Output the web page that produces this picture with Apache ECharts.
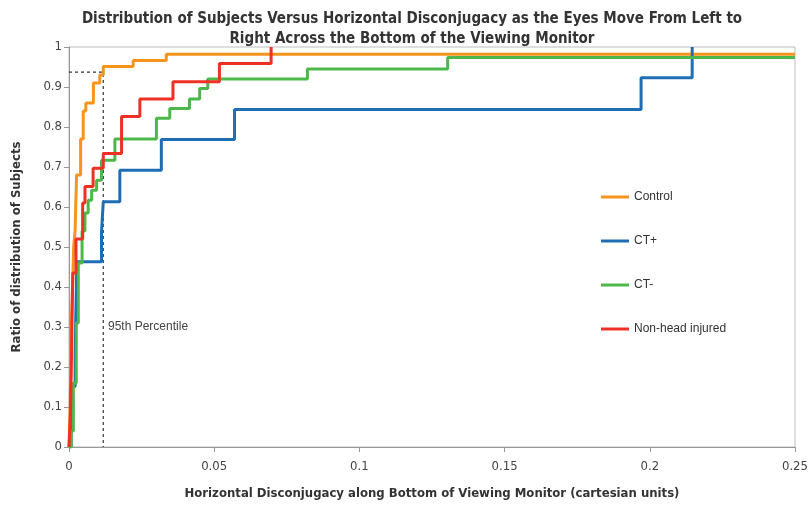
<!DOCTYPE html>
<html>
<head>
<meta charset="utf-8">
<script src="https://cdn.jsdelivr.net/npm/echarts@6/dist/echarts.min.js"></script>
<style>
  html, body { margin: 0; padding: 0; background: #fff; }
  #chart { width: 811px; height: 506px; }
</style>
</head>
<body>
<div id="chart"></div>
<script>
// cumulative distributions, [disconjugacy, ratio] at each step
const control = [
  [0, 0], [0.0004, 0.1], [0.0008, 0.3], [0.0013, 0.42], [0.0016, 0.5], [0.0021, 0.54],
  [0.0026, 0.68], [0.004, 0.77], [0.0049, 0.84], [0.0058, 0.86], [0.0084, 0.91],
  [0.0106, 0.93], [0.0118, 0.951], [0.0221, 0.966], [0.0335, 0.982], [0.25, 0.982]
]
const ctPlus = [
  [0, 0], [0.0007, 0.151], [0.0021, 0.23], [0.0023, 0.31], [0.0025, 0.385], [0.0027, 0.463],
  [0.0112, 0.538], [0.0118, 0.613], [0.0175, 0.692], [0.0318, 0.769], [0.057, 0.844],
  [0.197, 0.923], [0.2146, 1.0]
]
const ctMinus = [
  [0, 0], [0.0008, 0.04], [0.0015, 0.16], [0.0025, 0.31], [0.0032, 0.46], [0.0045, 0.54],
  [0.0055, 0.585], [0.0066, 0.617], [0.0078, 0.642], [0.0095, 0.667], [0.0112, 0.717],
  [0.0158, 0.77], [0.0301, 0.822], [0.0347, 0.846], [0.0415, 0.87], [0.045, 0.896],
  [0.0478, 0.92], [0.0821, 0.945], [0.1304, 0.974], [0.25, 0.974]
]
const nonHead = [
  [0, 0], [0.0005, 0.085], [0.0008, 0.2], [0.001, 0.3], [0.0013, 0.435], [0.0024, 0.52],
  [0.0047, 0.61], [0.0055, 0.651], [0.0083, 0.697], [0.0118, 0.734], [0.0181, 0.826],
  [0.0244, 0.87], [0.0358, 0.913], [0.0518, 0.959], [0.0696, 1.0]
]
// 95th percentile guide
const pctX = 0.0118
const pctY = 0.937

const font = "'DejaVu Sans Condensed', 'Liberation Sans Narrow', sans-serif"

const myChart = echarts.init(document.getElementById('chart'))

function stepLine(name, color, data) {
  return {
    name: name,
    type: 'line',
    step: 'end',
    data: data,
    symbol: 'none',
    lineStyle: { color: color, width: 3 },
    itemStyle: { color: color }
  }
}

myChart.setOption({
  animation: false,
  title: {
    text: 'Distribution of Subjects Versus Horizontal Disconjugacy as the Eyes Move From Left to\nRight Across the Bottom of the Viewing Monitor',
    left: 407,
    textAlign: 'center',
    top: 4,
    textStyle: { fontFamily: font, fontSize: 15, fontWeight: 'bold', color: '#333', lineHeight: 20 }
  },
  legend: {
    orient: 'vertical',
    left: 596,
    top: 186,
    itemGap: 32,
    itemWidth: 28,
    itemHeight: 3,
    icon: 'rect',
    data: ['Control', 'CT+', 'CT-', 'Non-head injured'],
    textStyle: { fontFamily: "'Liberation Sans', sans-serif", fontSize: 12, color: '#333' }
  },
  grid: {
    left: 69, right: 14, top: 47, bottom: 59,
    show: true, borderColor: '#bdbdbd', borderWidth: 1
  },
  xAxis: {
    type: 'value',
    min: 0, max: 0.25, interval: 0.05,
    name: 'Horizontal Disconjugacy along Bottom of Viewing Monitor (cartesian units)',
    nameLocation: 'middle',
    nameGap: 40,
    nameTextStyle: { fontFamily: font, fontSize: 13, fontWeight: 'bold', color: '#333' },
    axisLine: { lineStyle: { color: '#999' } },
    axisTick: { lineStyle: { color: '#999' } },
    axisLabel: { fontFamily: font, fontSize: 13, color: '#444', margin: 13 },
    splitLine: { show: false }
  },
  yAxis: {
    type: 'value',
    min: 0, max: 1, interval: 0.1,
    name: 'Ratio of distribution of Subjects',
    nameLocation: 'middle',
    nameGap: 46,
    nameTextStyle: { fontFamily: font, fontSize: 13, fontWeight: 'bold', color: '#333' },
    axisLine: { show: true, lineStyle: { color: '#999' } },
    axisTick: { show: true, lineStyle: { color: '#999' } },
    axisLabel: { fontFamily: font, fontSize: 13, color: '#444', margin: 7 },
    splitLine: { show: false }
  },
  graphic: [{
    type: 'text',
    left: 108, top: 321,
    style: { text: '95th Percentile', fontFamily: "'Liberation Sans', sans-serif", fontSize: 12, fill: '#444' }
  }],
  series: [
    {
      name: 'pct',
      type: 'line',
      data: [[0, pctY], [pctX, pctY], [pctX, 0]],
      symbol: 'none',
      lineStyle: { color: '#333', width: 1.2, type: [3, 3] },
      silent: true
    },
    stepLine('Control', '#F7941D', control),
    stepLine('CT+', '#1F6EB5', ctPlus),
    stepLine('CT-', '#4DB74A', ctMinus),
    stepLine('Non-head injured', '#EE3124', nonHead)
  ]
})
</script>
</body>
</html>
